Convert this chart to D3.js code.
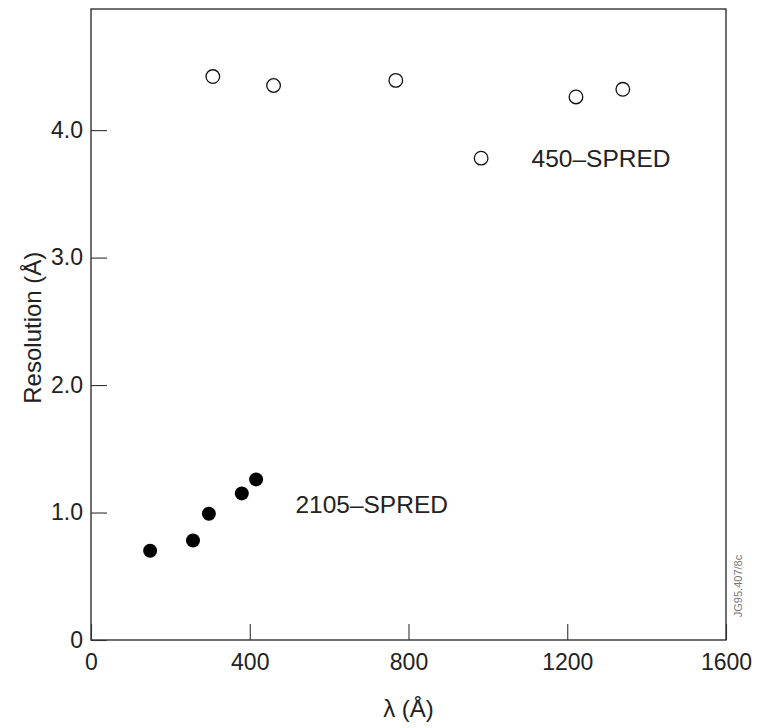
<!DOCTYPE html>
<html>
<head>
<meta charset="utf-8">
<script src="https://cdn.jsdelivr.net/npm/d3@7"></script>
<style>
  body { margin: 0; background: #fff; }
  svg text { font-family: "Liberation Sans", Arial, sans-serif; fill: #222; }
</style>
</head>
<body>
<div id="chart"></div>
<script>
// 450-SPRED (open circles)
const spred450Wave = [307, 460, 768, 983, 1222, 1340];
const spred450Res  = [4.42, 4.35, 4.39, 3.78, 4.26, 4.32];

// 2105-SPRED (filled dots)
const spred2105Wave = [149, 257, 297, 380, 416];
const spred2105Res  = [0.70, 0.78, 0.99, 1.15, 1.26];

const xTicks = [0, 400, 800, 1200, 1600];
const xTickLabels = ["0", "400", "800", "1200", "1600"];
const yTicks = [0, 1, 2, 3, 4];
const yTickLabels = ["0", "1.0", "2.0", "3.0", "4.0"];

const W = 759, H = 728;
const margin = { top: 9, right: 33, bottom: 88, left: 91 },
      width = W - margin.left - margin.right,
      height = H - margin.top - margin.bottom;

const svg = d3.select("#chart").append("svg")
    .attr("width", W)
    .attr("height", H);

const g = svg.append("g")
    .attr("transform", `translate(${margin.left},${margin.top})`);

const x = d3.scaleLinear().domain([0, 1600]).range([0, width]);
const y = d3.scaleLinear().domain([0, 4.95]).range([height, 0]);

// Axes (ticks pointing inward)
const xAxis = g.append("g")
    .attr("transform", `translate(0,${height})`)
    .call(d3.axisBottom(x)
        .tickValues(xTicks)
        .tickFormat((d, i) => xTickLabels[i])
        .tickSizeInner(-16)
        .tickSizeOuter(0)
        .tickPadding(14));

const yAxis = g.append("g")
    .call(d3.axisLeft(y)
        .tickValues(yTicks)
        .tickFormat((d, i) => yTickLabels[i])
        .tickSizeInner(-16)
        .tickSizeOuter(0)
        .tickPadding(8));

[xAxis, yAxis].forEach(a => {
    a.select(".domain").remove();
    a.selectAll("line").attr("stroke", "#333").attr("stroke-width", 1.1);
    a.selectAll("text").attr("font-size", 23).attr("fill", "#222");
});

// Frame
g.append("rect")
    .attr("x", 0).attr("y", 0)
    .attr("width", width).attr("height", height)
    .attr("fill", "none")
    .attr("stroke", "#333")
    .attr("stroke-width", 1.4);

// Points
g.selectAll(".open")
    .data(spred450Wave)
    .enter().append("circle")
    .attr("class", "open")
    .attr("cx", d => x(d))
    .attr("cy", (d, i) => y(spred450Res[i]))
    .attr("r", 6.8)
    .attr("fill", "#fff")
    .attr("stroke", "#111")
    .attr("stroke-width", 1.3);

g.selectAll(".filled")
    .data(spred2105Wave)
    .enter().append("circle")
    .attr("class", "filled")
    .attr("cx", d => x(d))
    .attr("cy", (d, i) => y(spred2105Res[i]))
    .attr("r", 7)
    .attr("fill", "#000");

// Series labels
g.append("text")
    .attr("x", x(1110)).attr("y", y(3.71))
    .attr("font-size", 24.5)
    .text("450\u2013SPRED");

g.append("text")
    .attr("x", x(515)).attr("y", y(1.0))
    .attr("font-size", 24.5)
    .text("2105\u2013SPRED");

// Axis titles
svg.append("text")
    .attr("x", margin.left + x(800))
    .attr("y", 717)
    .attr("text-anchor", "middle")
    .attr("font-size", 24)
    .text("\u03bb (\u00c5)");

svg.append("text")
    .attr("transform", `translate(41,${margin.top + y(2.45)}) rotate(-90)`)
    .attr("text-anchor", "middle")
    .attr("font-size", 24)
    .text("Resolution (\u00c5)");

// Figure code
svg.append("text")
    .attr("transform", `translate(742,586) rotate(-90)`)
    .attr("text-anchor", "middle")
    .attr("font-size", 11)
    .style("fill", "#777")
    .text("JG95.407/8c");
</script>
</body>
</html>
